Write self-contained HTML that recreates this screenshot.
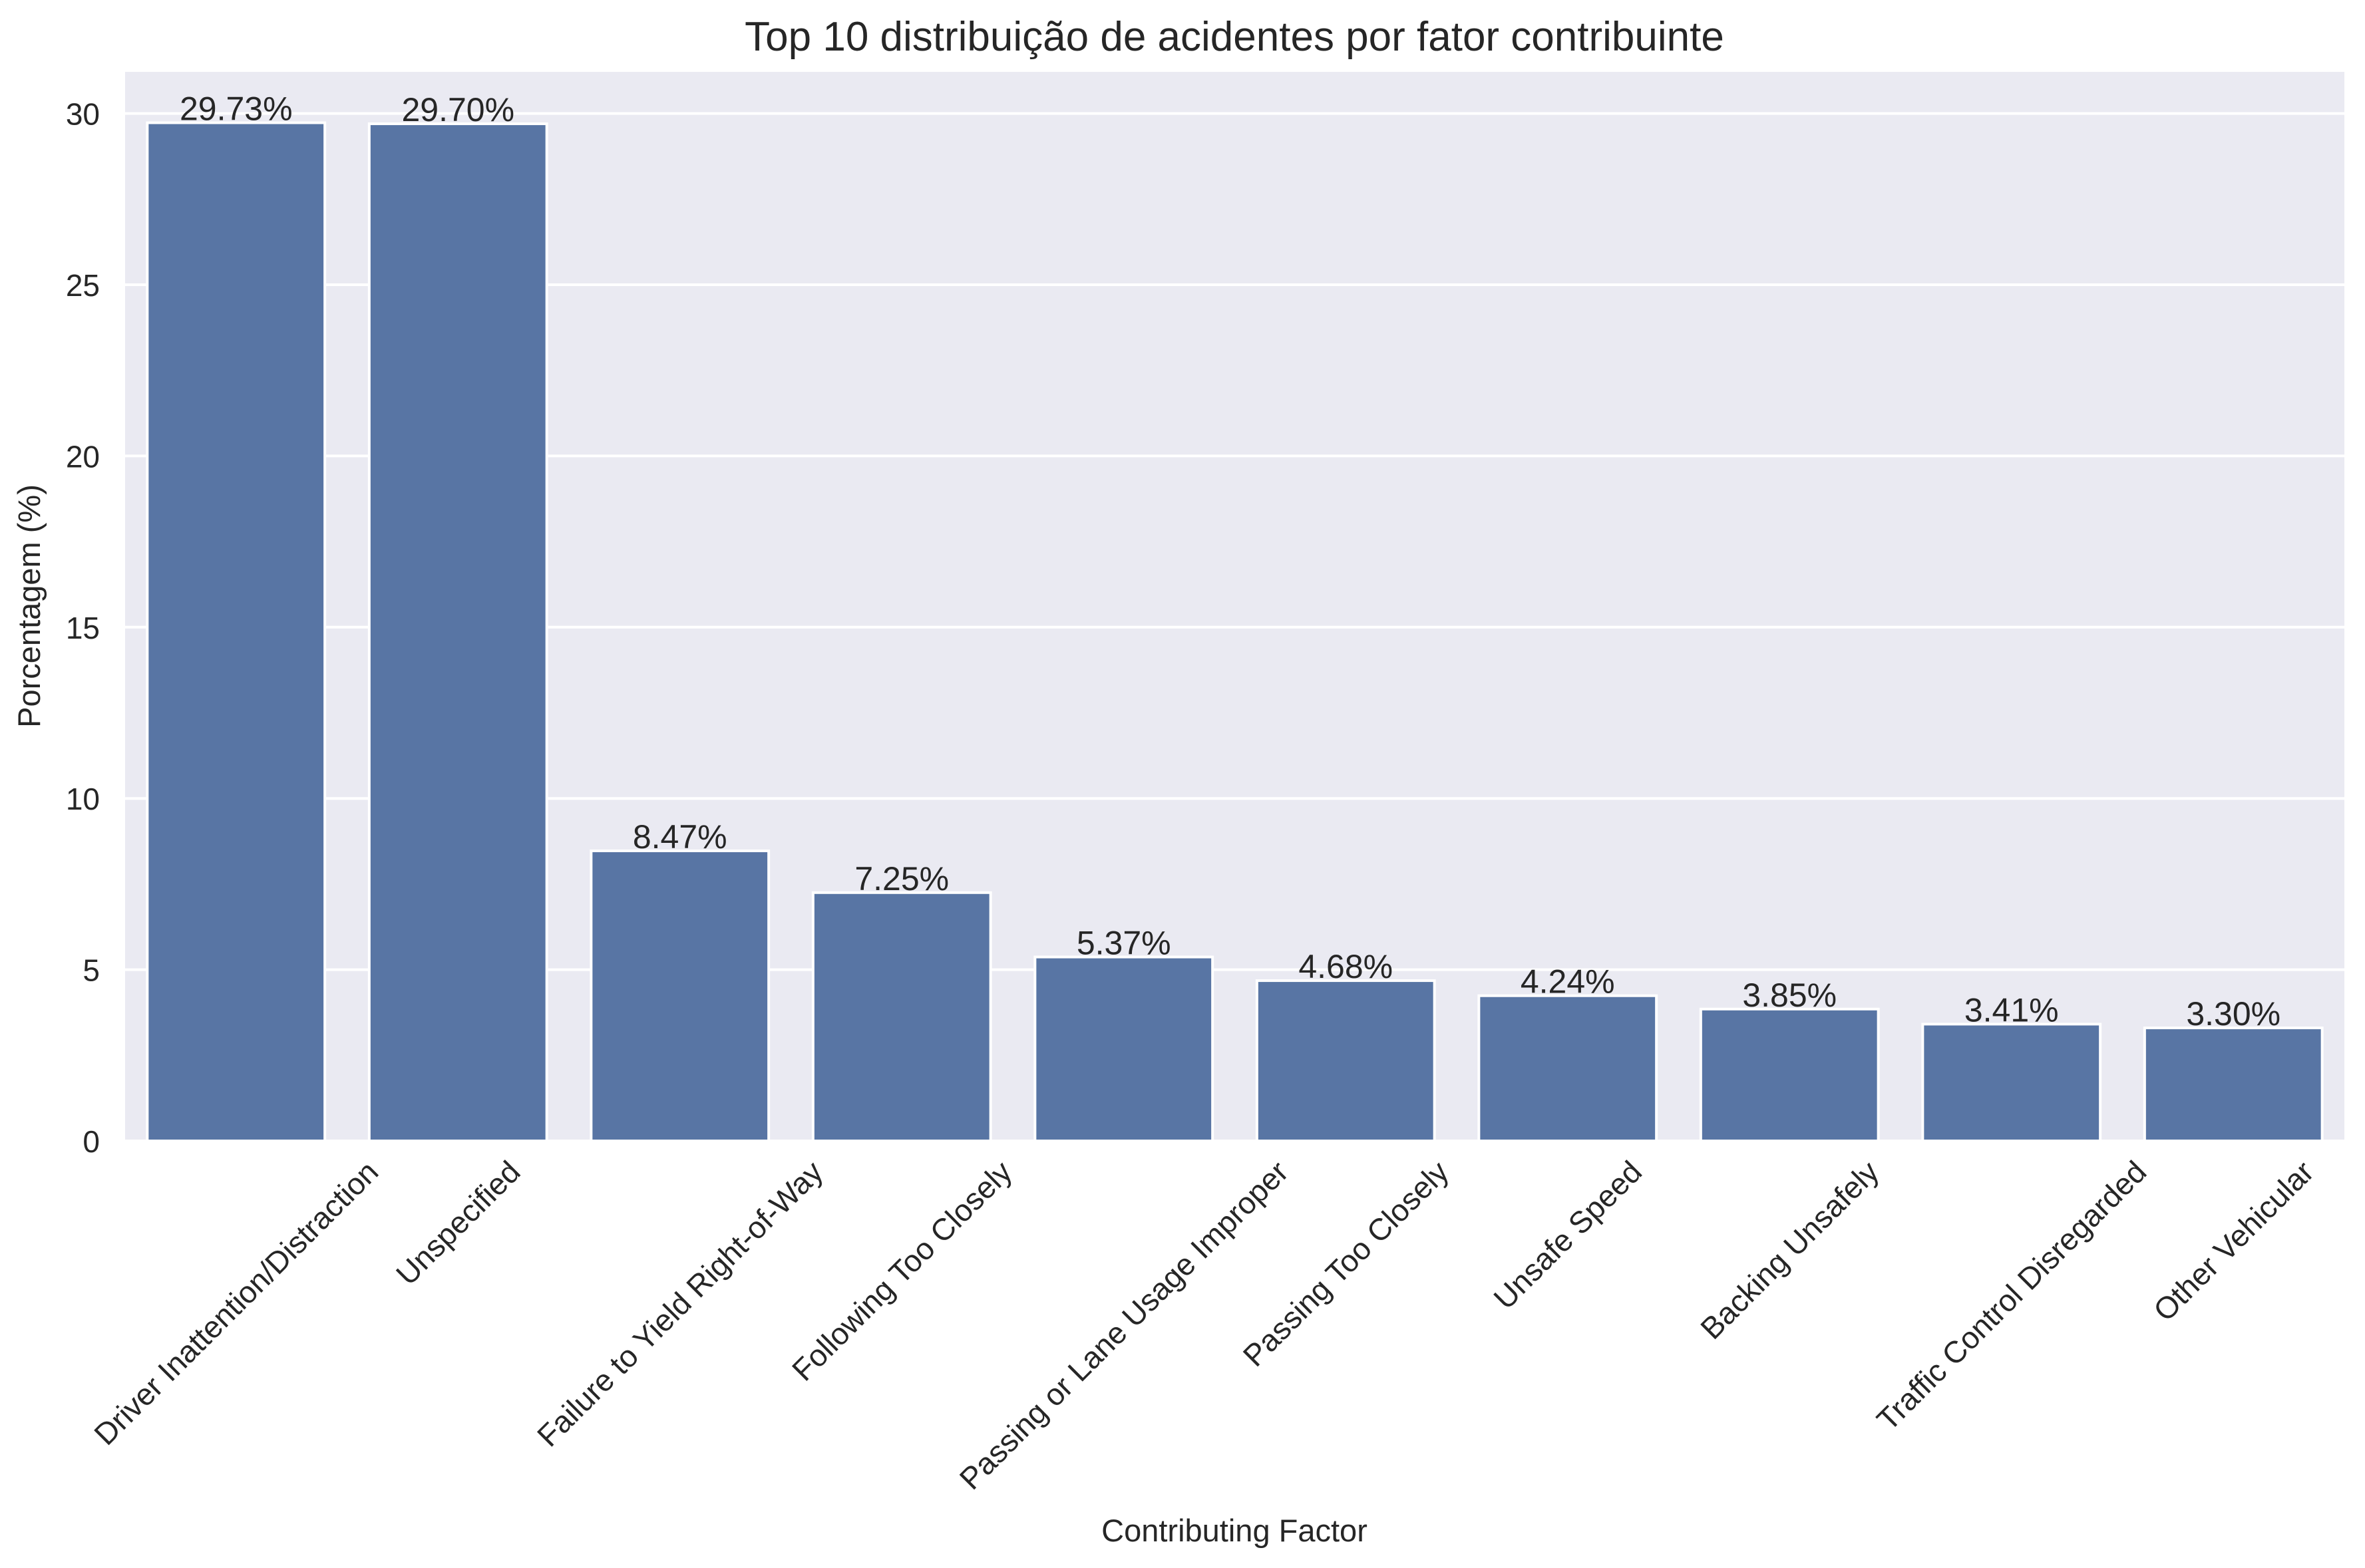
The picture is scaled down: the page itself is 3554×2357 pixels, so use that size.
<!DOCTYPE html>
<html><head><meta charset="utf-8"><style>
html,body{margin:0;padding:0;background:#fff;}
svg{display:block;font-family:"Liberation Sans",Arial,sans-serif;}
</style></head><body>
<svg id="chart" width="3554" height="2357" viewBox="0 0 3554 2357" xmlns="http://www.w3.org/2000/svg">
<rect x="0" y="0" width="3554" height="2357" fill="#ffffff"/>
<rect x="188" y="108" width="3335" height="1607" fill="#eaeaf2"/>
<g id="grid"></g>
<g id="bars"></g>
<g id="labels"></g>
<g id="yticks"></g>
<g id="xticks"></g>
<text x="1855" y="76" font-size="62" fill="#262626" text-anchor="middle">Top 10 distribuição de acidentes por fator contribuinte</text>
<text x="0" y="0" font-size="47" fill="#262626" text-anchor="middle" transform="translate(60,911) rotate(-90)">Porcentagem (%)</text>
<text x="1855" y="2317" font-size="47" fill="#262626" text-anchor="middle">Contributing Factor</text>
</svg>
<script>
const categories = ["Driver Inattention/Distraction","Unspecified","Failure to Yield Right-of-Way","Following Too Closely","Passing or Lane Usage Improper","Passing Too Closely","Unsafe Speed","Backing Unsafely","Traffic Control Disregarded","Other Vehicular"];
const values = [29.73, 29.70, 8.47, 7.25, 5.37, 4.68, 4.24, 3.85, 3.41, 3.30];
const yTicks = [0, 5, 10, 15, 20, 25, 30];

const NS = "http://www.w3.org/2000/svg";
const L = 188, R = 3523, T = 108, B = 1715;
const yMax = Math.max(...values) * 1.05;
function yScale(v){ return B - (v / yMax) * (B - T); }
const band = (R - L) / categories.length;
function xCenter(i){ return L + band * (i + 0.5); }
const barW = band * 0.8;

function mk(tag, attrs){ const e = document.createElementNS(NS, tag); for (const k in attrs) e.setAttribute(k, attrs[k]); return e; }

const grid = document.getElementById('grid');
const yt = document.getElementById('yticks');
yTicks.forEach(t => {
  const y = yScale(t);
  const ln = mk('line', {x1: L, x2: R, y1: y, y2: y, stroke: '#ffffff', 'stroke-width': 4});
  
  
  grid.appendChild(ln);
  const tx = mk('text', {x: 150, y: y + 17, 'font-size': 46, fill: '#262626', 'text-anchor': 'end'});
  tx.textContent = t;
  
  
  yt.appendChild(tx);
});

const bars = document.getElementById('bars');
const labs = document.getElementById('labels');
const xt = document.getElementById('xticks');
values.forEach((v, i) => {
  const cx = xCenter(i);
  const top = yScale(v);
  const r = mk('rect', {x: cx - barW/2, y: top, width: barW, height: B - top, fill: '#5875a4', stroke: '#ffffff', 'stroke-width': 4});
  
  
  bars.appendChild(r);
  const lb = mk('text', {x: cx, y: top - 4, 'font-size': 50, fill: '#262626', 'text-anchor': 'middle'});
  lb.textContent = v.toFixed(2) + '%';
  
  
  labs.appendChild(lb);
  const tl = mk('text', {x: 0, y: 0, 'font-size': 46, fill: '#262626', 'text-anchor': 'middle', 'dominant-baseline': 'central'});
  tl.textContent = categories[i];
  
  
  xt.appendChild(tl);
  const w = tl.getComputedTextLength();
  const h = 46;
  const bh = (w + h) * Math.SQRT1_2;
  tl.setAttribute('transform', 'translate(' + cx + ',' + (B + 22 + bh/2) + ') rotate(-45)');
});
</script>
</body></html>
